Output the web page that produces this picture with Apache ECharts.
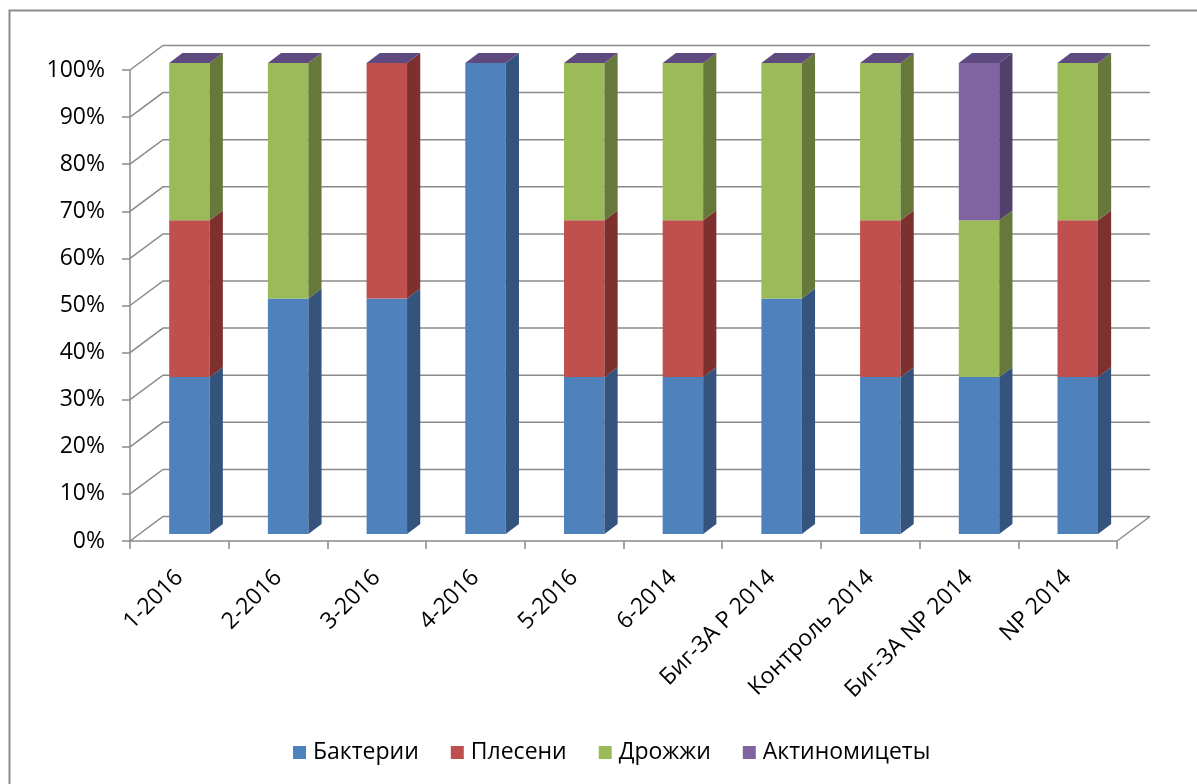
<!DOCTYPE html>
<html>
<head>
<meta charset="utf-8">
<script src="https://cdn.jsdelivr.net/npm/echarts@6/dist/echarts.min.js"></script>
<style>
html,body{margin:0;padding:0;background:#fff;}
#chart{width:1197px;height:784px;}
</style>
</head>
<body>
<div id="chart"></div>
<script>
// ---- data ----
const categories = ['1-2016','2-2016','3-2016','4-2016','5-2016','6-2014','Биг-3А P 2014','Контроль 2014','Биг-3А NP 2014','NP 2014'];
const seriesNames = ['Бактерии','Плесени','Дрожжи','Актиномицеты'];
const bacteria = [33.3, 50, 50, 100, 33.3, 33.3, 50, 33.3, 33.3, 33.3];
const molds    = [33.3,  0, 50,   0, 33.3, 33.3,  0, 33.3,    0, 33.3];
const yeasts   = [33.4, 50,  0,   0, 33.4, 33.4, 50, 33.4, 33.3, 33.4];
const actino   = [   0,  0,  0,   0,    0,    0,  0,    0, 33.4,    0];
const yTickValues = [0,10,20,30,40,50,60,70,80,90,100];

// ---- style ----
const frontColors = ['#4f81bd','#c0504d','#9bbb59','#8064a2'];
const sideColors  = ['#34547e','#7d302e','#66793a','#523f6b'];
const topColor = '#5f4a7f';
const gridColor = '#8a8a8a';
const DX = 33, DY = -24.5;     // depth of the 3D box
const F = 0.29;                // bar front depth fraction
const D = 0.40;                // bar depth fraction
const FONT = 'Open Sans';

const allValues = [bacteria, molds, yeasts, actino];
const stacked = allValues.map((arr, s) => arr.map((v, i) => {
  let base = 0;
  for (let k = 0; k < s; k++) base += allValues[k][i];
  return [i, base, base + v];
}));

function barRenderer(s) {
  return function (params, api) {
    const i = api.value(0), y0 = api.value(1), y1 = api.value(2);
    const bw = api.size([1, 0])[0] * 0.41;
    const c0 = api.coord([i, y0]);
    const c1 = api.coord([i, y1]);
    const xl = c0[0] + DX * F - bw / 2 + 0.5, xr = xl + bw;
    const yb = c0[1] + DY * F, yt = c1[1] + DY * F;
    const dx = DX * D, dy = DY * D;
    const children = [];
    if (yb - yt > 0.01) {
      children.push({type:'rect', shape:{x:xl, y:yt, width:bw, height:yb-yt}, style:{fill:frontColors[s]}});
      children.push({type:'polygon', shape:{points:[[xr,yb],[xr+dx,yb+dy],[xr+dx,yt+dy],[xr,yt]]}, style:{fill:sideColors[s]}});
    }
    if (s === allValues.length - 1) {
      children.push({type:'polygon', shape:{points:[[xl,yt],[xr,yt],[xr+dx,yt+dy],[xl+dx,yt+dy]]}, style:{fill:topColor}});
    }
    return {type:'group', children};
  };
}

function wallRenderer(params, api) {
  const cs = params.coordSys;
  const L = cs.x, R = cs.x + cs.width;
  const v = api.value(0);
  const y = api.coord([0, v])[1];
  const children = [{
    type:'polyline',
    shape:{points:[[L,y],[L+DX,y+DY],[R+DX,y+DY]]},
    style:{stroke:gridColor, lineWidth:1.5, fill:null}
  }];
  if (v === 0) {
    children.push({type:'line', shape:{x1:R, y1:y, x2:R+DX, y2:y+DY}, style:{stroke:gridColor, lineWidth:1.5}});
  }
  return {type:'group', children};
}

const chart = echarts.init(document.getElementById('chart'), null, {renderer:'canvas'});
const option = {
  animation:false,
  backgroundColor:'#fff',
  textStyle:{fontFamily:FONT},
  graphic:[{
    type:'rect', left:7, top:8, shape:{x:0, y:0, width:1300, height:900},
    style:{fill:null, stroke:'#8c8c8c', lineWidth:2}, silent:true, z:-10
  }],
  legend:{
    data:seriesNames, left:288, top:736, icon:'rect', itemWidth:13, itemHeight:13, itemGap:32,
    textStyle:{fontFamily:FONT, fontSize:23, color:'#000', padding:[0,0,0,2]}
  },
  grid:{left:130, right:80, top:70, bottom:243},
  xAxis:{type:'category', data:categories,
     axisLine:{lineStyle:{color:gridColor, width:1.5}},
     axisTick:{show:true, length:8, lineStyle:{color:gridColor, width:1.5}},
     axisLabel:{rotate:45, margin:33, fontSize:23, fontFamily:FONT, color:'#000', interval:0}},
  yAxis:{type:'value', min:0, max:100, interval:10,
     axisLine:{show:true, lineStyle:{color:gridColor, width:1.5}},
     axisTick:{show:true, length:8, lineStyle:{color:gridColor, width:1.5}},
     splitLine:{show:false},
     axisLabel:{formatter:'{value}%', margin:25, fontSize:23, fontFamily:FONT, color:'#000'}},
  series:[
    {type:'custom', name:'walls', renderItem:wallRenderer,
     data:yTickValues.map(v => [v]), encode:{y:0}, silent:true, z:1}
  ].concat(seriesNames.map((n, s) => ({
    type:'custom', name:n, renderItem:barRenderer(s),
    itemStyle:{color:frontColors[s]}, encode:{x:0, y:[1,2]}, data:stacked[s], z:2+s
  })))
};
chart.setOption(option);
</script>
</body>
</html>
